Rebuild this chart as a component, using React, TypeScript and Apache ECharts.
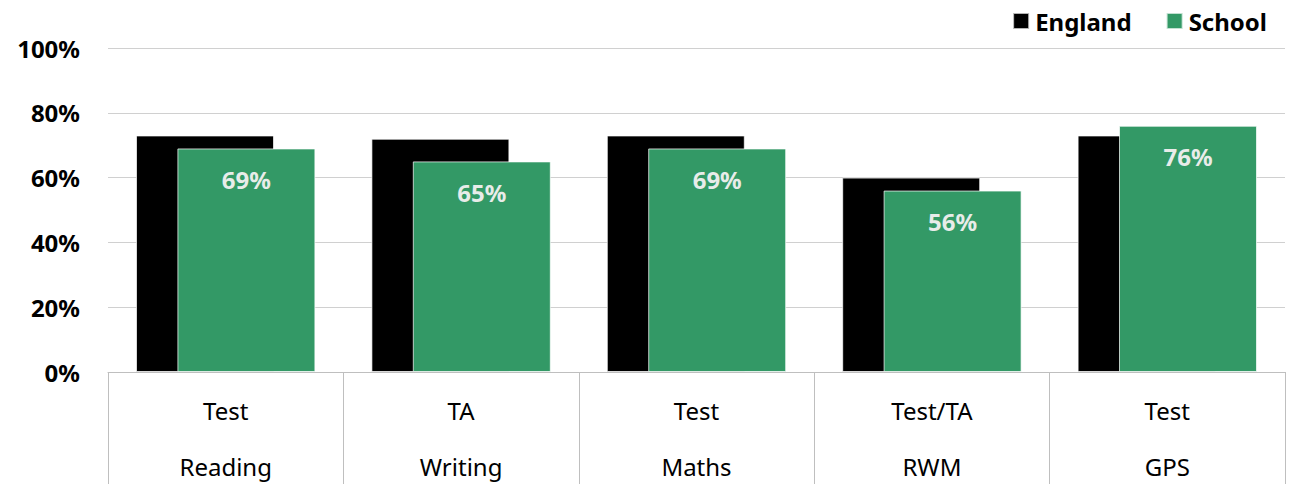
import React, { useEffect, useRef } from "react";
import * as echarts from "echarts";

const subjects = ["Reading", "Writing", "Maths", "RWM", "GPS"];
const assessments = ["Test", "TA", "Test", "Test/TA", "Test"];
const englandValues = [73, 72, 73, 60, 73];
const schoolValues = [69, 65, 69, 56, 76];
const yTicks = [0, 20, 40, 60, 80, 100];

const FONT = "'Noto Sans', 'Open Sans', sans-serif";

export default function App() {
  const ref = useRef<HTMLDivElement>(null);
  useEffect(() => {
    if (!ref.current) return;
    document.body.style.margin = "0";
    const chart = echarts.init(ref.current, undefined, { renderer: "svg", width: 1292, height: 484 });
    const categories = subjects.map((s, i) => `${assessments[i]}\n${s}`);
    chart.setOption({
      animation: false,
      textStyle: { fontFamily: FONT },
      grid: { left: 108, right: 7, top: 48, bottom: 112, containLabel: false, outerBoundsMode: "none" },
      legend: {
        right: 20,
        top: 4,
        itemWidth: 16,
        itemHeight: 16,
        itemGap: 34,
        icon: "rect",
        textStyle: { fontFamily: FONT, fontSize: 24, fontWeight: "bold", color: "#000", padding: [0, 0, 0, 1] },
        data: ["England", "School"],
      },
      xAxis: {
        type: "category",
        data: categories,
        axisLine: { show: true, lineStyle: { color: "#bfbfbf", width: 1 } },
        axisTick: { show: true, length: 112, interval: 0, lineStyle: { color: "#bfbfbf", width: 1 } },
        axisLabel: {
          interval: 0,
          margin: 10,
          fontFamily: FONT,
          fontSize: 24,
          color: "#000",
          lineHeight: 56,
        },
      },
      yAxis: {
        type: "value",
        min: yTicks[0],
        max: yTicks[yTicks.length - 1],
        interval: 20,
        axisLine: { show: false },
        axisTick: { show: false },
        splitLine: { lineStyle: { color: "#d0d0d0", width: 1 } },
        axisLabel: {
          margin: 28,
          fontFamily: FONT,
          fontSize: 24,
          fontWeight: "bold",
          color: "#000",
          formatter: "{value}%",
        },
      },
      series: [
        {
          name: "England",
          type: "bar",
          data: englandValues,
          barWidth: 138,
          barGap: "-70%",
          itemStyle: { color: "#000000", borderColor: "rgba(255,255,255,0.7)", borderWidth: 1 },
        },
        {
          name: "School",
          type: "bar",
          data: schoolValues,
          barWidth: 138,
          itemStyle: { color: "#339966", borderColor: "rgba(255,255,255,0.7)", borderWidth: 1 },
          label: {
            show: true,
            position: "insideTop",
            distance: 19,
            formatter: "{c}%",
            fontFamily: FONT,
            fontSize: 24,
            fontWeight: "bold",
            color: "#e8ece9",
          },
        },
      ],
    });
    return () => chart.dispose();
  }, []);
  return <div ref={ref} style={{ width: 1292, height: 484 }} />;
}
